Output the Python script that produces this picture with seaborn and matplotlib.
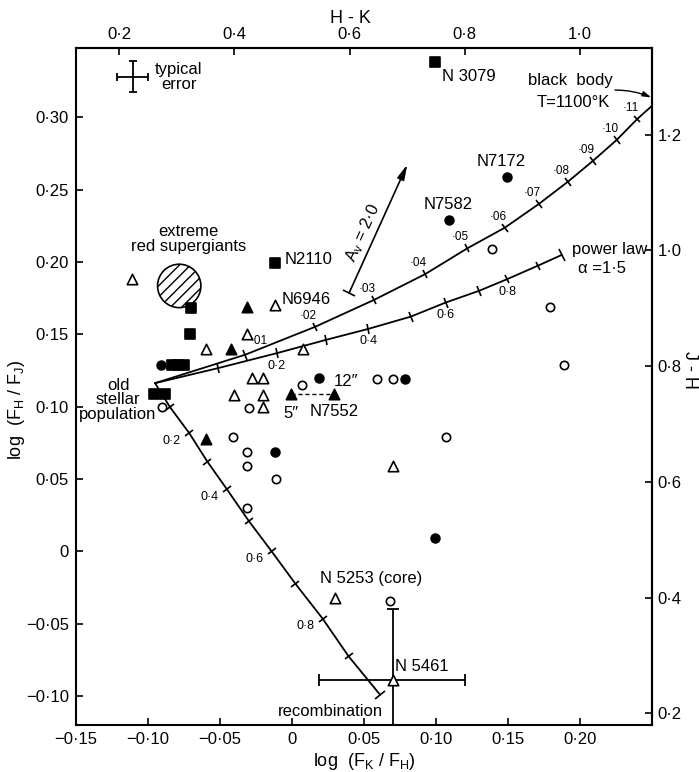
import numpy as np
import pandas as pd
import matplotlib
matplotlib.use("Agg")
import matplotlib.pyplot as plt
import seaborn as sns
from matplotlib.markers import MarkerStyle
from matplotlib.transforms import Affine2D
from matplotlib.patches import Ellipse

sns.set_style("ticks")
plt.rcParams['font.family'] = ['Liberation Sans', 'DejaVu Sans']
plt.rcParams['mathtext.default'] = 'regular'
plt.rcParams['hatch.linewidth'] = 1.0
for key in ['text.color', 'axes.labelcolor', 'xtick.color', 'ytick.color', 'axes.edgecolor']:
    plt.rcParams[key] = 'black'

# ---- data: log(FK/FH), log(FH/FJ)
sq_fill_x = [0.099, -0.012, -0.070, -0.071, -0.083, -0.079, -0.075, -0.096, -0.088]
sq_fill_y = [0.338, 0.199, 0.168, 0.150, 0.129, 0.129, 0.129, 0.109, 0.109]

circ_fill_x = [-0.091, 0.019, -0.012, 0.0785, 0.109, 0.149, 0.099]
circ_fill_y = [0.129, 0.120, 0.069, 0.119, 0.229, 0.259, 0.009]

circ_open_x = [-0.090, 0.007, -0.030, -0.041, -0.031, -0.031, -0.011, -0.031,
               0.059, 0.070, 0.107, 0.139, 0.179, 0.189, 0.068]
circ_open_y = [0.100, 0.115, 0.099, 0.079, 0.069, 0.059, 0.050, 0.030,
               0.119, 0.119, 0.079, 0.209, 0.169, 0.129, -0.0345]

tri_fill_x = [-0.031, -0.042, -0.060, -0.001, 0.029]
tri_fill_y = [0.169, 0.140, 0.078, 0.109, 0.109]

tri_open_x = [-0.111, -0.012, -0.0315, -0.060, 0.008, -0.028, -0.020,
              -0.040, -0.020, -0.020, 0.070, 0.030, 0.070]
tri_open_y = [0.188, 0.170, 0.150, 0.140, 0.140, 0.120, 0.120,
              0.108, 0.108, 0.100, 0.059, -0.032, -0.089]

# N5461 error bars and the typical error
n5461_x, n5461_y = 0.070, -0.089
n5461_xerr = [0.051, 0.050]
n5461_yerr = [0.06, 0.049]
typ_x, typ_y = -0.1106, 0.328
typ_xerr, typ_yerr = 0.0106, 0.0107

# model curves (start, then tick positions)
bb_x = [-0.0951, -0.0326, 0.0160, 0.0569, 0.0924, 0.1218, 0.1479, 0.1715,
        0.1917, 0.2092, 0.2255, 0.2398, 0.2498]
bb_y = [0.1163, 0.1359, 0.1552, 0.1738, 0.1916, 0.2095, 0.2238, 0.2402,
        0.2556, 0.2701, 0.2844, 0.2989, 0.3078]
bb_labels = ['·01', '·02', '·03', '·04', '·05', '·06', '·07', '·08', '·09', '·10', '·11']

pl_x = [-0.0951, -0.0512, -0.0106, 0.0236, 0.0530, 0.0826, 0.1067, 0.1299,
        0.1495, 0.1706, 0.1873]
pl_y = [0.1163, 0.1267, 0.1370, 0.1462, 0.1538, 0.1623, 0.1720, 0.1801,
        0.1882, 0.1974, 0.2049]
pl_labels = {2: '0·2', 4: '0·4', 6: '0·6', 8: '0·8'}

rc_x = [-0.0951, -0.0847, -0.0713, -0.0588, -0.0453, -0.0299, -0.0141, 0.0024,
        0.0213, 0.0393, 0.0611]
rc_y = [0.1163, 0.0997, 0.0817, 0.0621, 0.0431, 0.0209, 0.0000, -0.0224,
        -0.0465, -0.0725, -0.0990]
rc_labels = {2: '0·2', 4: '0·4', 6: '0·6', 8: '0·8'}

av_x = [0.0398, 0.0801]
av_y = [0.1789, 0.2674]

dash_x = [-0.001, 0.029]
dash_y = [0.109, 0.109]

rsg_center = (-0.0783, 0.1835)

fig = plt.figure(figsize=(6.99, 7.72), dpi=100)
ax = fig.add_axes([0.1087, 0.0609, 0.824, 0.877])
ax.set_xlim(-0.15, 0.25)
ax.set_ylim(-0.12, 0.348)

# ---- points
pts = pd.concat([
    pd.DataFrame({'x': sq_fill_x, 'y': sq_fill_y, 'kind': 'sq_fill'}),
    pd.DataFrame({'x': circ_fill_x, 'y': circ_fill_y, 'kind': 'circ_fill'}),
    pd.DataFrame({'x': circ_open_x, 'y': circ_open_y, 'kind': 'circ_open'}),
    pd.DataFrame({'x': tri_fill_x, 'y': tri_fill_y, 'kind': 'tri_fill'}),
    pd.DataFrame({'x': tri_open_x, 'y': tri_open_y, 'kind': 'tri_open'}),
])
styles = {'sq_fill': ('s', 'black', 44), 'circ_fill': ('o', 'black', 40),
          'circ_open': ('o', 'white', 36), 'tri_fill': ('^', 'black', 56),
          'tri_open': ('^', 'white', 56)}

# error bars first so markers sit on top
ax.errorbar(n5461_x, n5461_y, xerr=[[n5461_xerr[0]], [n5461_xerr[1]]],
            yerr=[[n5461_yerr[0]], [n5461_yerr[1]]], fmt='none', ecolor='black',
            elinewidth=1.3, capsize=4, capthick=1.3, zorder=3)
ax.errorbar(typ_x, typ_y, xerr=typ_xerr, yerr=typ_yerr, fmt='none', ecolor='black',
            elinewidth=1.3, capsize=3, capthick=1.3)

for kind, (m, fc, s) in styles.items():
    sns.scatterplot(data=pts[pts.kind == kind], x='x', y='y', marker=m, s=s,
                    color=fc, edgecolor='black', linewidth=1.2, ax=ax, zorder=5,
                    legend=False)

# ---- curves
for cx, cy in [(bb_x, bb_y), (pl_x, pl_y), (rc_x, rc_y)]:
    sns.lineplot(x=cx, y=cy, sort=False, estimator=None, color='black', lw=1.3, ax=ax)
sns.lineplot(x=dash_x, y=dash_y, sort=False, estimator=None, color='black', lw=1.0,
             ls=(0, (3, 2)), ax=ax)


def cross_ticks(xs, ys, idx, size=7):
    p = ax.transData.transform(np.column_stack([xs, ys]))
    for i in idx:
        a, b = p[max(i - 1, 0)], p[min(i + 1, len(xs) - 1)]
        ang = np.degrees(np.arctan2(b[1] - a[1], b[0] - a[0]))
        mk = MarkerStyle('|', transform=Affine2D().rotate_deg(ang))
        ax.plot(xs[i], ys[i], marker=mk, ms=size, mew=1.2, color='black', zorder=4)


cross_ticks(bb_x, bb_y, range(1, 12))
cross_ticks(pl_x, pl_y, range(1, 10))
cross_ticks(pl_x, pl_y, [10], size=9)
cross_ticks(rc_x, rc_y, range(1, 10))
cross_ticks(rc_x, rc_y, [10], size=9)
cross_ticks(av_x, av_y, [0], size=9)

for i, lab in enumerate(bb_labels, start=1):
    off = (10, 10) if i == 1 else (-5, 8)
    ax.annotate(lab, (bb_x[i], bb_y[i]), xytext=off, textcoords='offset points',
                ha='center', va='center', fontsize=8.5)
for i, lab in pl_labels.items():
    ax.annotate(lab, (pl_x[i], pl_y[i]), xytext=(0, -9), textcoords='offset points',
                ha='center', va='center', fontsize=9)
for i, lab in rc_labels.items():
    ax.annotate(lab, (rc_x[i], rc_y[i]), xytext=(-12.5, -5.5), textcoords='offset points',
                ha='center', va='center', fontsize=9)

# reddening vector
ax.annotate('', xy=(av_x[1], av_y[1]), xytext=(av_x[0], av_y[0]),
            arrowprops=dict(arrowstyle='-|>,head_length=0.9,head_width=0.22',
                            lw=1.2, color='black', shrinkA=0, shrinkB=0))
ax.text(0.0495, 0.2199, '$A_{v}$ = 2·0', rotation=65.7, ha='center', va='center',
        fontsize=12, rotation_mode='anchor')

# extreme red supergiants
ax.add_patch(Ellipse(rsg_center, 0.0301, 0.030, facecolor='white', edgecolor='black',
                     hatch='///', lw=1.2, zorder=4))

# ---- text labels
fs = 12
ax.text(-0.0785, 0.328, 'typical\nerror', ha='center', va='center', fontsize=fs,
        linespacing=0.95)
ax.text(0.104, 0.328, 'N 3079', ha='left', va='center', fontsize=fs)
ax.text(0.1639, 0.3257, 'black  body', ha='left', va='center', fontsize=fs)
ax.text(0.170, 0.310, 'T=1100°K', ha='left', va='center', fontsize=fs)
ax.annotate('', xy=(0.2495, 0.3138), xytext=(0.2243, 0.3189),
            arrowprops=dict(arrowstyle='-|>,head_length=0.5,head_width=0.15', lw=1.0,
                            color='black', connectionstyle='arc3,rad=-0.1',
                            shrinkA=0, shrinkB=0))
ax.text(0.1456, 0.2693, 'N7172', ha='center', va='center', fontsize=fs)
ax.text(0.1085, 0.240, 'N7582', ha='center', va='center', fontsize=fs)
ax.text(0.1942, 0.2084, 'power law', ha='left', va='center', fontsize=fs)
ax.text(0.1988, 0.1957, 'α =1·5', ha='left', va='center', fontsize=fs)
ax.text(-0.0053, 0.2019, 'N2110', ha='left', va='center', fontsize=fs)
ax.text(-0.0072, 0.1743, 'N6946', ha='left', va='center', fontsize=fs)
ax.text(-0.072, 0.2158, 'extreme\nred supergiants', ha='center', va='center',
        fontsize=fs, linespacing=0.95)
ax.text(-0.1208, 0.1048, 'old\nstellar\npopulation', ha='center', va='center',
        fontsize=fs, linespacing=0.95)
ax.text(-0.0007, 0.0956, '5\u2033', ha='center', va='center', fontsize=fs)
ax.text(0.0374, 0.1174, '12\u2033', ha='center', va='center', fontsize=fs)
ax.text(0.0292, 0.0967, 'N7552', ha='center', va='center', fontsize=fs)
ax.text(0.0547, -0.019, 'N 5253 (core)', ha='center', va='center', fontsize=fs)
ax.text(0.090, -0.0794, 'N 5461', ha='center', va='center', fontsize=fs)
ax.text(0.0264, -0.1105, 'recombination', ha='center', va='center', fontsize=fs)

# ---- axes, ticks
xt = [-0.15, -0.10, -0.05, 0, 0.05, 0.10, 0.15, 0.20]
ax.set_xticks(xt)
ax.set_xticklabels(['−0·15', '−0·10', '−0·05', '0', '0·05', '0·10', '0·15', '0·20'])
yt = [-0.10, -0.05, 0, 0.05, 0.10, 0.15, 0.20, 0.25, 0.30]
ax.set_yticks(yt)
ax.set_yticklabels(['−0·10', '−0·05', '0', '0·05', '0·10', '0·15', '0·20', '0·25', '0·30'])
ax.tick_params(direction='in', length=5, width=1.2, labelsize=12, pad=5)
ax.set_xlabel('log  (F$_K$ / F$_H$)', fontsize=13, labelpad=3)
ax.set_ylabel('log  (F$_H$ / F$_J$)', fontsize=13)
ax.yaxis.set_label_coords(-0.085, 0.465)

top = ax.secondary_xaxis('top', functions=(lambda v: 2.5 * v + 0.5, lambda v: (v - 0.5) / 2.5))
top.set_xticks([0.2, 0.4, 0.6, 0.8, 1.0])
top.set_xticklabels(['0·2', '0·4', '0·6', '0·8', '1·0'])
top.tick_params(direction='in', length=5, width=1.2, labelsize=12, pad=4)
top.set_xlabel('H - K', fontsize=13)
top.xaxis.set_label_coords(0.476, 1.037, transform=ax.transAxes)

right = ax.secondary_yaxis('right', functions=(lambda v: 2.5 * v + 0.48, lambda v: (v - 0.48) / 2.5))
right.set_yticks([0.2, 0.4, 0.6, 0.8, 1.0, 1.2])
right.set_yticklabels(['0·2', '0·4', '0·6', '0·8', '1·0', '1·2'])
right.tick_params(direction='in', length=5, width=1.2, labelsize=12, pad=4)
right.set_ylabel('J - H', fontsize=13, rotation=270, va='center')
right.yaxis.set_label_coords(1.065, 0.524, transform=ax.transAxes)

for sp in list(ax.spines.values()) + list(top.spines.values()) + list(right.spines.values()):
    sp.set_linewidth(1.5)
    sp.set_color('black')

fig.savefig('out.png', dpi=100)
